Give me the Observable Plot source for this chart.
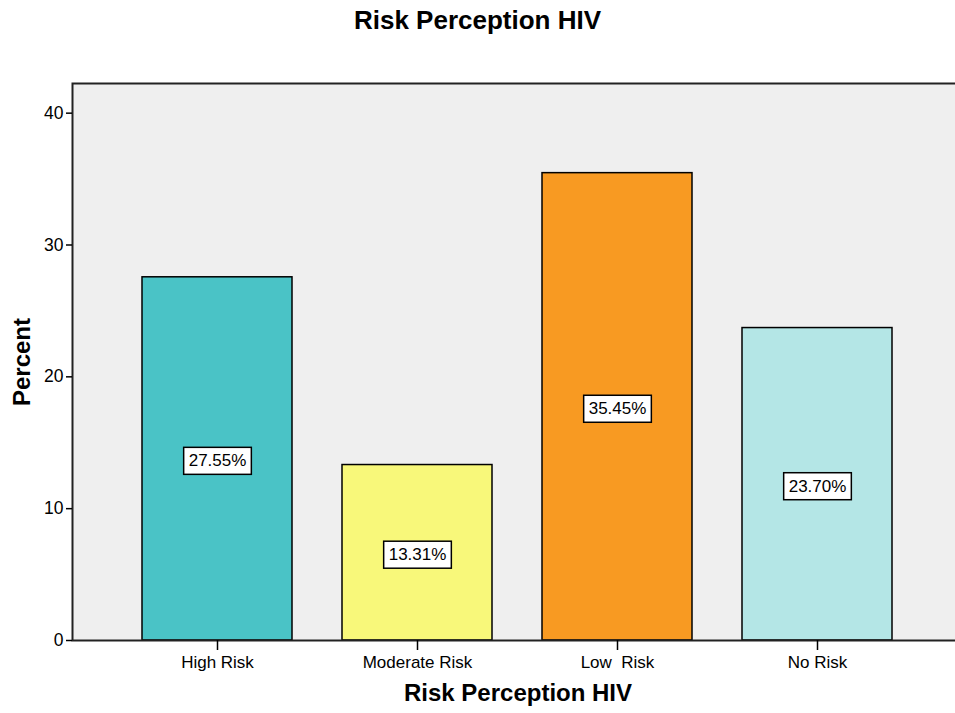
<!DOCTYPE html>
<html>
<head>
<meta charset="utf-8">
<script src="https://cdn.jsdelivr.net/npm/d3@7"></script>
<script src="https://cdn.jsdelivr.net/npm/@observablehq/plot@0.6"></script>
<style>
  html, body { margin: 0; padding: 0; background: #fff; }
  body { width: 955px; height: 713px; overflow: hidden; font-family: "Liberation Sans", Arial, sans-serif; }
  #title { height: 40px; line-height: 40px; text-align: center; font-weight: bold; font-size: 26px; color: #000; }
  #chart svg { display: block; }
</style>
</head>
<body>
<div id="title">Risk Perception HIV</div>
<div id="chart"></div>
<script>
const categories = ["High Risk", "Moderate Risk", "Low  Risk", "No Risk"];
const percents = [27.55, 13.31, 35.45, 23.70];
const colors = ["#4AC3C6", "#F8F87A", "#F89A22", "#B4E6E6"];
const yTicks = [0, 10, 20, 30, 40];
const yMax = 42.25;

const data = categories.map((c, i) => ({cat: c, value: percents[i]}));

const font = "Liberation Sans, Arial, sans-serif";

const chart = Plot.plot({
  width: 955,
  height: 673,
  marginLeft: 72,
  marginRight: 0,
  marginTop: 43,
  marginBottom: 73,
  style: {fontFamily: font, fontSize: "17px", color: "#000", background: "transparent"},
  x: {domain: categories, range: [116.5, 916.5], paddingInner: 0.25, paddingOuter: 0.125, label: null},
  y: {domain: [0, yMax], label: null},
  color: {domain: categories, range: colors},
  marks: [
    Plot.frame({fill: "#EFEFEF"}),
    Plot.barY(data, {x: "cat", y: "value", fill: "cat", stroke: "#000", strokeWidth: 1.5}),
    Plot.frame({stroke: "#222", strokeWidth: 2, insetRight: -4}),
    Plot.axisY({ticks: yTicks, tickSize: 6, tickPadding: 3, tickFormat: d => String(d), label: null, fontSize: 17.5, stroke: "#000", strokeWidth: 1.5}),
    Plot.axisX({tickSize: 10, tickPadding: 5, label: null, fontSize: 17, stroke: "#000", strokeWidth: 1.5}),
    Plot.text(data, {x: "cat", y: d => d.value / 2, dy: 2, text: d => d.value.toFixed(2) + "%", fontSize: 17, fill: "#000"}),
    Plot.text(["Percent"], {frameAnchor: "left", textAnchor: "middle", dx: -50, rotate: -90, fontWeight: "bold", fontSize: 24, fill: "#000"}),
    Plot.text(["Risk Perception HIV"], {frameAnchor: "bottom", dx: 4, dy: 60, fontWeight: "bold", fontSize: 24, fill: "#000"})
  ]
});

document.getElementById("chart").appendChild(chart);

// white boxes behind the value labels
const labelTexts = Array.from(chart.querySelectorAll("text")).filter(t => /%$/.test(t.textContent.trim()));
labelTexts.forEach(function(el) {
  const bb = el.getBBox();
  const padX = 5, padY = 5;
  const r = document.createElementNS("http://www.w3.org/2000/svg", "rect");
  r.setAttribute("x", bb.x - padX);
  r.setAttribute("y", bb.y - padY + 1);
  r.setAttribute("width", bb.width + 2 * padX);
  r.setAttribute("height", bb.height + 2 * padY - 2);
  const t = el.getAttribute("transform");
  if (t) r.setAttribute("transform", t);
  r.setAttribute("fill", "#fff");
  r.setAttribute("stroke", "#000");
  r.setAttribute("stroke-width", "1.5");
  el.parentNode.insertBefore(r, el);
});
</script>
</body>
</html>
